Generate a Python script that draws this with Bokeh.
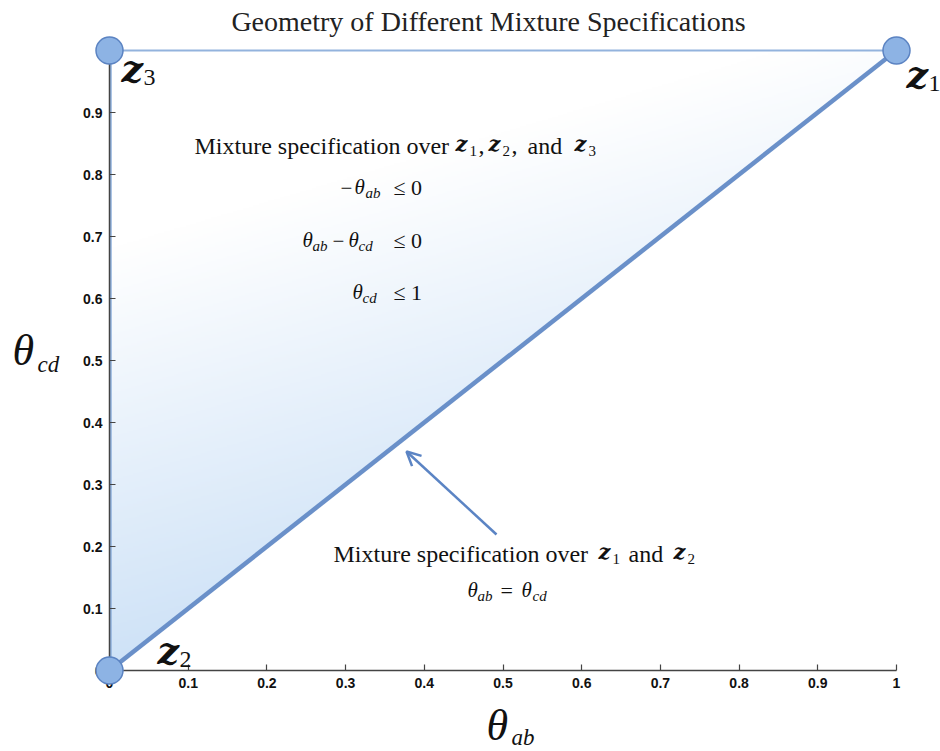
import numpy as np
from bokeh.plotting import figure
from bokeh.models import Arrow, OpenHead, FixedTicker, Range1d
from bokeh.core.properties import value
from bokeh.embed import file_html
from bokeh.resources import INLINE

# ---------------- data ----------------
vertex_names = ["z1", "z2", "z3"]
vertex_x = [1.0, 0.0, 0.0]
vertex_y = [1.0, 0.0, 1.0]
edges = [(1, 0), (2, 0), (1, 2)]          # z2-z1 (theta_ab = theta_cd), z3-z1, z2-z3
x_ticks = [0.0, 0.1, 0.2, 0.3, 0.4, 0.5, 0.6, 0.7, 0.8, 0.9, 1.0]
x_tick_labels = ["0", "0.1", "0.2", "0.3", "0.4", "0.5", "0.6", "0.7", "0.8", "0.9", "1"]
y_ticks = [0.0, 0.1, 0.2, 0.3, 0.4, 0.5, 0.6, 0.7, 0.8, 0.9]
y_tick_labels = ["0", "0.1", "0.2", "0.3", "0.4", "0.5", "0.6", "0.7", "0.8", "0.9"]

# ---------------- figure ----------------
W, H = 940, 750
FL, FT = 109, 50
FR, FB = W - 896, H - 670
p = figure(width=W, height=H, output_backend="svg", toolbar_location=None,
           x_range=Range1d(0, 1), y_range=Range1d(0, 1),
           min_border_left=FL, min_border_right=FR, min_border_top=FT, min_border_bottom=FB)
p.outline_line_color = None
p.grid.visible = False
p.background_fill_color = "white"
p.border_fill_color = "white"

fw = W - FL - FR
fh = H - FT - FB
PX0, PY0 = FL, FT + fh   # canvas coords of data origin


def dx(px):
    return (px - PX0) / fw


def dy(py):
    return (PY0 - py) / fh


for ax in (p.xaxis, p.yaxis):
    ax.major_tick_in = 6
    ax.major_tick_out = 0
    ax.minor_tick_line_color = None
    ax.axis_line_color = "#444444"
    ax.axis_line_width = 1.5
    ax.major_tick_line_color = "#444444"
    ax.major_tick_line_width = 1.2
    ax.major_label_text_font = "Liberation Sans"
    ax.major_label_text_font_style = "bold"
    ax.major_label_text_font_size = "14px"
    ax.major_label_text_color = "#111111"
    ax.major_label_standoff = 7

p.xaxis.ticker = FixedTicker(ticks=x_ticks)
p.xaxis.major_label_overrides = dict(zip(x_ticks, x_tick_labels))
p.yaxis.ticker = FixedTicker(ticks=y_ticks)
p.yaxis.major_label_overrides = dict(zip(y_ticks, y_tick_labels))

# ---------------- gradient fill of the triangle (style only) ----------------
N = 400
g = (np.arange(N) + 0.5) / N
GX, GY = np.meshgrid(g, g)
inside = GY >= GX
s = GY - 0.375 * GX
w = np.clip(1 - s / 0.68, 0, 1)
c_end = np.array([206, 226, 247])
img = np.zeros((N, N), dtype=np.uint32)
view = img.view(dtype=np.uint8).reshape((N, N, 4))
for k in range(3):
    view[:, :, k] = (255 * (1 - w) + c_end[k] * w).astype(np.uint8)
view[:, :, 3] = np.where(inside, 255, 0).astype(np.uint8)
p.image_rgba(image=[img], x=0, y=0, dw=1, dh=1)

# ---------------- edges ----------------
edge_styles = [dict(line_color="#6A90C9", line_width=4.5, level="overlay"),
               dict(line_color="#93B3DD", line_width=1.8, level="overlay"),
               dict(line_color="#8FB0DC", line_width=4.5, level="glyph")]
for (a, b), st in zip(edges, edge_styles):
    p.line([vertex_x[a], vertex_x[b]], [vertex_y[a], vertex_y[b]], **st)

# ---------------- vertices ----------------
p.scatter(vertex_x, vertex_y, size=27, fill_color="#8DB3E4", line_color="#5B83C2",
          line_width=1.5, level="overlay")

SERIF = "Liberation Serif"
ZFONT = "DejaVu Serif"


def txt(px, py, text, size, font=SERIF, style="normal", align="left",
        baseline="middle", color="#111111"):
    p.text(x=[dx(px)], y=[dy(py)], text=[text], text_font=value(font),
           text_font_size=value(f"{size}px"), text_font_style=value(style),
           text_align=value(align), text_baseline=value(baseline),
           text_color=color, level="overlay")


# vertex labels (tied to the vertex coordinates)
vlab_off = {"z1": (10, 24), "z2": (48, -20), "z3": (12, 18)}
for name, vx, vy in zip(vertex_names, vertex_x, vertex_y):
    ox, oy = vlab_off[name]
    bx = PX0 + vx * fw + ox
    by = PY0 - vy * fh + oy
    txt(bx, by, "z", 38, font=ZFONT, style="bold italic")
    txt(bx + 22, by + 9, name[1], 24)

# title
txt(488, 21, "Geometry of Different Mixture Specifications", 28, align="center",
    color="#222222")

# upper annotation block
txt(194, 145, "Mixture specification over", 24)
txt(455, 143, "z", 21, font=ZFONT, style="bold italic")
txt(469, 150, "1", 15)
txt(478, 145, ",", 24)
txt(488, 143, "z", 21, font=ZFONT, style="bold italic")
txt(502, 150, "2", 15)
txt(511, 145, ",", 24)
txt(527, 145, "and", 24)
txt(574, 143, "z", 21, font=ZFONT, style="bold italic")
txt(588, 150, "3", 15)

# constraints
txt(340, 187, "\u2212", 21)
txt(354, 186, "\u03b8", 21, style="italic")
txt(365, 192, "ab", 15, style="italic")
txt(393, 187, "\u2264 0", 22)

txt(302, 239, "\u03b8", 21, style="italic")
txt(312, 245, "ab", 15, style="italic")
txt(332, 240, "\u2212", 21)
txt(348, 239, "\u03b8", 21, style="italic")
txt(358, 245, "cd", 15, style="italic")
txt(393, 240, "\u2264 0", 22)

txt(352, 291, "\u03b8", 21, style="italic")
txt(362, 297, "cd", 15, style="italic")
txt(393, 292, "\u2264 1", 22)

# lower annotation
txt(333, 553, "Mixture specification over", 24)
txt(598, 551, "z", 21, font=ZFONT, style="bold italic")
txt(612, 558, "1", 15)
txt(628, 553, "and", 24)
txt(673, 551, "z", 21, font=ZFONT, style="bold italic")
txt(687, 558, "2", 15)

txt(467, 589, "\u03b8", 21, style="italic")
txt(477, 595, "ab", 15, style="italic")
txt(500, 590, "=", 22)
txt(521, 589, "\u03b8", 21, style="italic")
txt(532, 595, "cd", 15, style="italic")

# arrow towards the z1-z2 edge
p.add_layout(Arrow(end=OpenHead(size=14, line_color="#5B84C4", line_width=2.5),
                   x_start=dx(496), y_start=dy(534), x_end=dx(406), y_end=dy(451),
                   line_color="#5B84C4", line_width=2.5))

# axis labels
txt(12, 350, "\u03b8", 44, style="italic")
txt(37, 364, "cd", 23, style="italic")
txt(486, 725, "\u03b8", 44, style="italic")
txt(511, 737, "ab", 23, style="italic")

open("out.html", "w").write(file_html(p, INLINE))
